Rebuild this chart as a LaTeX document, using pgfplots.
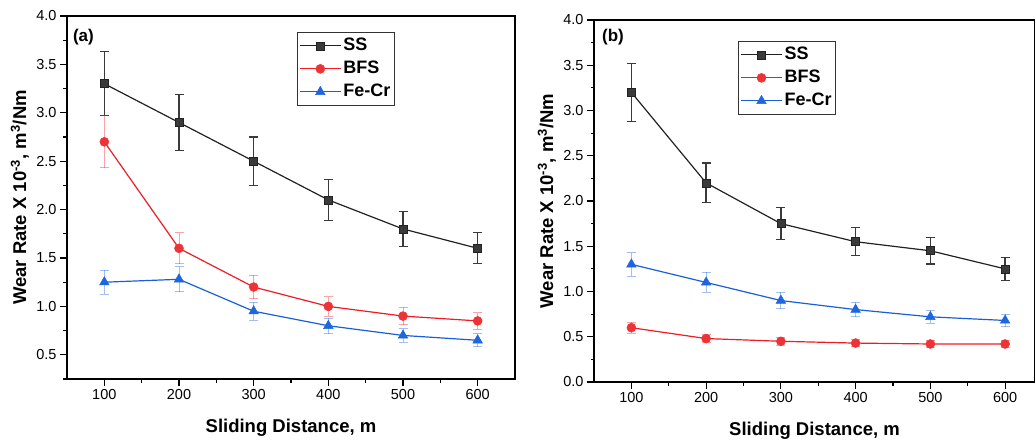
\documentclass[border=0pt]{standalone}
\usepackage{pgfplots}
\pgfplotsset{compat=1.18}
\usepackage{fontspec}
\setmainfont{Liberation Sans}
\definecolor{ssline}{HTML}{222222}
\definecolor{ssfill}{HTML}{3A3A3A}
\definecolor{bfsred}{HTML}{EE1C25}
\definecolor{bfsfill}{HTML}{EE3338}
\definecolor{feblue}{HTML}{1A5FD8}
\definecolor{fefill}{HTML}{1E66E0}
\pgfplotsset{
  mystyle/.style={
    scale only axis,
    anchor=south west,
    xmin=50,
    ymax=4.0,
    xtick={100,200,...,600},
    ytick={0,0.5,...,4.0},
    minor x tick num=1,
    minor y tick num=1,
    tick align=outside,
    tick pos=left,
    major tick length=7pt,
    minor tick length=3.5pt,
    axis line style={line width=1.2pt},
    every tick/.style={black, line width=1.1pt},
    /pgf/number format/assume math mode=true,
    tick label style={font=\fontsize{14.5}{16}\selectfont},
    y tick label style={/pgf/number format/.cd, fixed, fixed zerofill, precision=1},
    label style={font=\bfseries\fontsize{18.5}{20}\selectfont},
    xlabel={Sliding Distance, m},
    ylabel={Wear Rate X 10\textsuperscript{-3}, m\textsuperscript{3}/Nm},
    xlabel style={at={(axis description cs:0.5,0)}, yshift=-53pt, anchor=base},
    legend cell align=left,
    legend style={anchor=north west, draw=black!80, line width=0.8pt,
      font=\bfseries\fontsize{18}{20}\selectfont, inner xsep=2pt, inner ysep=2pt,
      nodes={inner xsep=2pt, inner ysep=3.5pt, text height=13pt, text depth=3pt},
      /tikz/every even column/.append style={column sep=5pt}},
    legend image code/.code={\draw[mark repeat=2,mark phase=2,##1] plot coordinates {(0pt,0pt) (20.5pt,0pt) (41pt,0pt)};},
  },
  ssplot/.style={color=ssline, line width=1.2pt, mark=square*, mark size=4pt,
    mark options={fill=ssfill, draw=ssline, line width=0.6pt},
    error bars/.cd, y dir=both, y explicit,
    error bar style={color=ssfill, line width=1.3pt},
    error mark options={rotate=90, mark size=4.5pt, line width=1.3pt, color=ssfill}},
  bfsplot/.style={color=bfsred, line width=1.2pt, mark=*, mark size=4.5pt,
    mark options={fill=bfsfill, draw=bfsfill, line width=0.5pt},
    error bars/.cd, y dir=both, y explicit,
    error bar style={color=bfsred, opacity=0.4, line width=1pt},
    error mark options={rotate=90, mark size=4.5pt, line width=1pt, color=bfsred, opacity=0.4}},
  feplot/.style={color=feblue, line width=1.2pt, mark=triangle*, mark size=5.5pt,
    mark options={fill=fefill, draw=fefill, line width=0.5pt},
    error bars/.cd, y dir=both, y explicit,
    error bar style={color=feblue, opacity=0.4, line width=1pt},
    error mark options={rotate=90, mark size=4.5pt, line width=1pt, color=feblue, opacity=0.4}},
}
\begin{document}
\begin{tikzpicture}
\useasboundingbox (-67pt,-62pt) rectangle (968pt,379pt);
% ---------- (a) ----------
\begin{axis}[mystyle, at={(0pt,0pt)}, width=448pt, height=363pt,
  xmax=650, ymin=0.25,
  ylabel style={at={(axis description cs:-0.105,0.5)}, anchor=center},
  legend style={at={(0.513,0.956)}}]
\addplot[ssplot] table[x=x, y=y, y error=e] {
x y e
100 3.30 0.33
200 2.90 0.29
300 2.50 0.25
400 2.10 0.21
500 1.80 0.18
600 1.60 0.16
};
\addlegendentry{SS}
\addplot[bfsplot] table[x=x, y=y, y error=e] {
x y e
100 2.70 0.27
200 1.60 0.16
300 1.20 0.12
400 1.00 0.10
500 0.90 0.09
600 0.85 0.085
};
\addlegendentry{BFS}
\addplot[feplot] table[x=x, y=y, y error=e] {
x y e
100 1.25 0.125
200 1.28 0.128
300 0.95 0.095
400 0.80 0.08
500 0.70 0.07
600 0.65 0.065
};
\addlegendentry{Fe-Cr}
\node[anchor=west, font=\bfseries\fontsize{17}{19}\selectfont, inner sep=0pt] at (rel axis cs:0.013,0.942) {(a)};
\end{axis}
% ---------- (b) ----------
\begin{axis}[mystyle, at={(527pt,-3pt)}, width=441pt, height=362pt,
  xmax=640, ymin=0,
  ylabel style={at={(axis description cs:-0.1066,0.5)}, anchor=center},
  legend style={at={(0.3265,0.942)}}]
\addplot[ssplot] table[x=x, y=y, y error=e] {
x y e
100 3.20 0.32
200 2.20 0.22
300 1.75 0.175
400 1.55 0.155
500 1.45 0.145
600 1.25 0.125
};
\addlegendentry{SS}
\addplot[bfsplot] table[x=x, y=y, y error=e] {
x y e
100 0.60 0.06
200 0.48 0.048
300 0.45 0.045
400 0.43 0.043
500 0.42 0.042
600 0.42 0.042
};
\addlegendentry{BFS}
\addplot[feplot] table[x=x, y=y, y error=e] {
x y e
100 1.30 0.13
200 1.10 0.11
300 0.90 0.09
400 0.80 0.08
500 0.72 0.072
600 0.68 0.068
};
\addlegendentry{Fe-Cr}
\node[anchor=west, font=\bfseries\fontsize{17}{19}\selectfont, inner sep=0pt] at (rel axis cs:0.018,0.952) {(b)};
\end{axis}
\end{tikzpicture}
\end{document}
